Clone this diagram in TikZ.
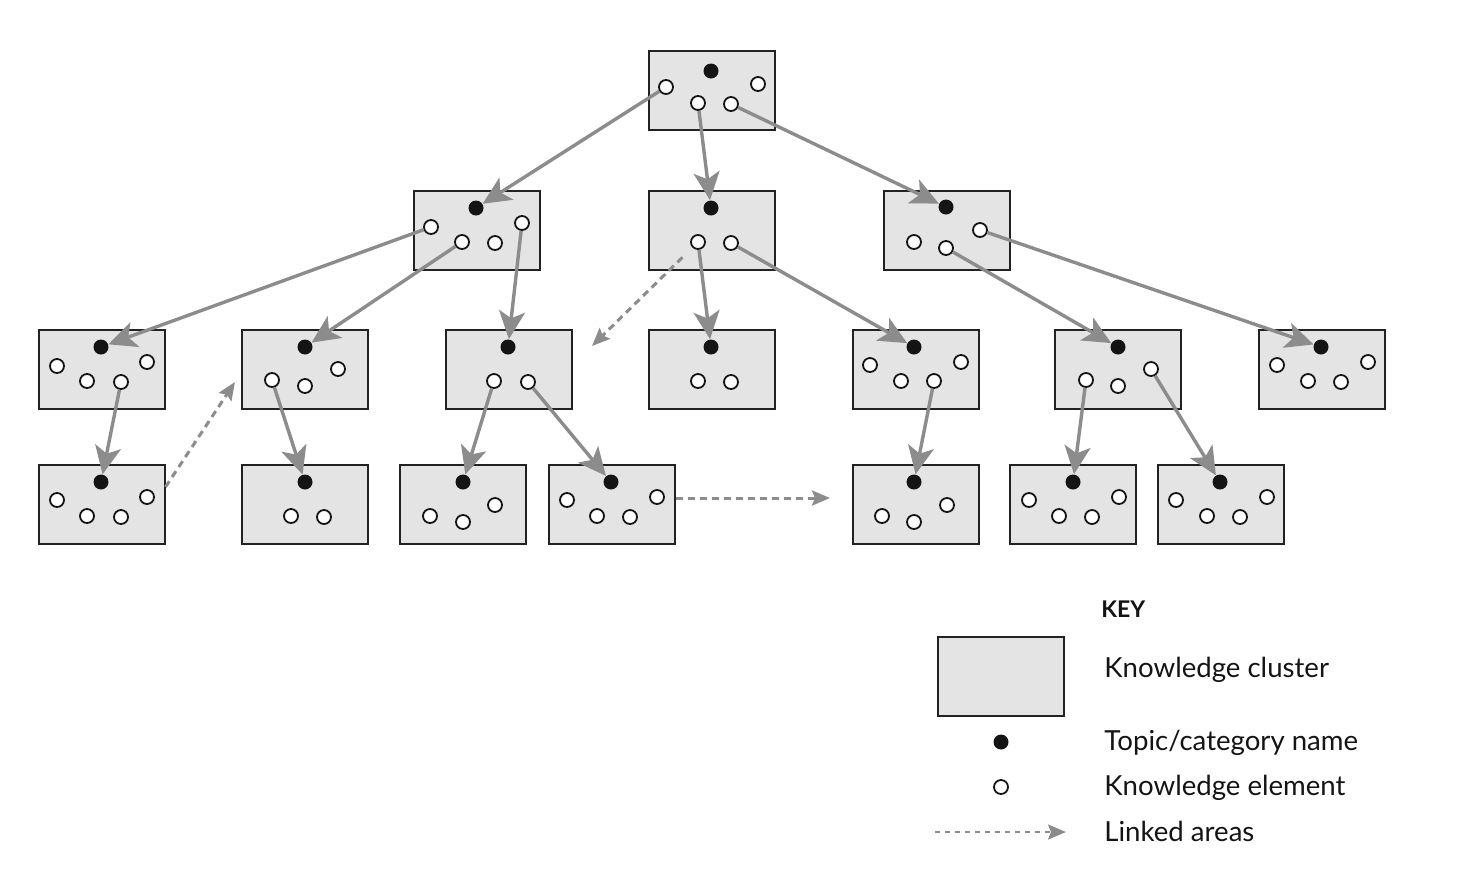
\documentclass[tikz,border=0pt]{standalone}
\usepackage{fontspec}
\setmainfont{Lato}
\usetikzlibrary{arrows.meta}
\definecolor{boxfill}{HTML}{E4E4E4}
\definecolor{boxline}{HTML}{222222}
\definecolor{arrgray}{HTML}{8C8C8C}
\definecolor{dotblack}{HTML}{141414}
\tikzset{
  cluster/.style={draw=boxline, fill=boxfill, line width=1pt, minimum width=63pt, minimum height=39.5pt, inner sep=0pt},
  topic/.style={circle, fill=dotblack, minimum size=7.5pt, inner sep=0pt},
  elem/.style={circle, draw=dotblack, fill=white, line width=0.9pt, minimum size=7pt, inner sep=0pt},
  tree/.style={draw=arrgray, line width=1.7pt, -{Stealth[length=14pt,width=13pt,inset=3.5pt]}},
  linked/.style={draw=arrgray, line width=1.5pt, dash pattern=on 3.5pt off 2.5pt, -{Stealth[length=9pt,width=7.5pt,inset=1.5pt]}},
  keytext/.style={anchor=base west, inner sep=0pt, font=\fontsize{13.8}{16}\selectfont, text=dotblack}
}
\begin{document}
\begin{tikzpicture}[x=0.5pt,y=-0.5pt]
\useasboundingbox (0,0) rectangle (1466,880);
% clusters
\node[cluster] (A) at (712,90.5) {};
\node[cluster] (B1) at (476.5,230.5) {};
\node[cluster] (B2) at (712,230.5) {};
\node[cluster] (B3) at (947,230.5) {};
\node[cluster] (C1) at (101.5,369.5) {};
\node[cluster] (C2) at (305,369.5) {};
\node[cluster] (C3) at (508.5,369.5) {};
\node[cluster] (C4) at (712,369.5) {};
\node[cluster] (C5) at (915.5,369.5) {};
\node[cluster] (C6) at (1118,369.5) {};
\node[cluster] (C7) at (1321.5,369.5) {};
\node[cluster] (D1) at (101.5,504.5) {};
\node[cluster] (D2) at (305,504.5) {};
\node[cluster] (D3) at (463,504.5) {};
\node[cluster] (D4) at (611.5,504.5) {};
\node[cluster] (D5) at (915.5,504.5) {};
\node[cluster] (D6) at (1073,504.5) {};
\node[cluster] (D7) at (1220.5,504.5) {};
% dots
\node[topic] (A-t) at (711,71) {};
\node[elem] (A-1) at (666,87) {};
\node[elem] (A-2) at (698,103) {};
\node[elem] (A-3) at (731,104) {};
\node[elem] (A-4) at (758,84) {};
\node[topic] (B1-t) at (476,208) {};
\node[elem] (B1-1) at (431,227) {};
\node[elem] (B1-2) at (462,242) {};
\node[elem] (B1-3) at (495,243) {};
\node[elem] (B1-4) at (522,223) {};
\node[topic] (B2-t) at (711,208) {};
\node[elem] (B2-1) at (698,242) {};
\node[elem] (B2-2) at (731,243) {};
\node[topic] (B3-t) at (946,207) {};
\node[elem] (B3-1) at (914,242) {};
\node[elem] (B3-2) at (946,248) {};
\node[elem] (B3-3) at (980,230) {};
\node[topic] (C1-t) at (101,347) {};
\node[elem] (C1-1) at (57,366) {};
\node[elem] (C1-2) at (87,381) {};
\node[elem] (C1-3) at (121,382) {};
\node[elem] (C1-4) at (147,362) {};
\node[topic] (C2-t) at (305,347) {};
\node[elem] (C2-1) at (272,380) {};
\node[elem] (C2-2) at (305,386) {};
\node[elem] (C2-3) at (338,369) {};
\node[topic] (C3-t) at (508,347) {};
\node[elem] (C3-1) at (494,381) {};
\node[elem] (C3-2) at (528,382) {};
\node[topic] (C4-t) at (711,347) {};
\node[elem] (C4-1) at (698,381) {};
\node[elem] (C4-2) at (731,382) {};
\node[topic] (C5-t) at (914,347) {};
\node[elem] (C5-1) at (870,365) {};
\node[elem] (C5-2) at (901,381) {};
\node[elem] (C5-3) at (934,381) {};
\node[elem] (C5-4) at (961,362) {};
\node[topic] (C6-t) at (1118,347) {};
\node[elem] (C6-1) at (1086,380) {};
\node[elem] (C6-2) at (1118,386) {};
\node[elem] (C6-3) at (1151,369) {};
\node[topic] (C7-t) at (1321,347) {};
\node[elem] (C7-1) at (1277,365) {};
\node[elem] (C7-2) at (1308,381) {};
\node[elem] (C7-3) at (1341,382) {};
\node[elem] (C7-4) at (1368,362) {};
\node[topic] (D1-t) at (101,482) {};
\node[elem] (D1-1) at (57,500) {};
\node[elem] (D1-2) at (87,516) {};
\node[elem] (D1-3) at (121,517) {};
\node[elem] (D1-4) at (147,497) {};
\node[topic] (D2-t) at (305,482) {};
\node[elem] (D2-1) at (291,516) {};
\node[elem] (D2-2) at (324,517) {};
\node[topic] (D3-t) at (463,482) {};
\node[elem] (D3-1) at (430,516) {};
\node[elem] (D3-2) at (463,522) {};
\node[elem] (D3-3) at (495,505) {};
\node[topic] (D4-t) at (611,482) {};
\node[elem] (D4-1) at (567,500) {};
\node[elem] (D4-2) at (597,516) {};
\node[elem] (D4-3) at (630,517) {};
\node[elem] (D4-4) at (657,497) {};
\node[topic] (D5-t) at (914,482) {};
\node[elem] (D5-1) at (882,516) {};
\node[elem] (D5-2) at (914,522) {};
\node[elem] (D5-3) at (947,505) {};
\node[topic] (D6-t) at (1073,482) {};
\node[elem] (D6-1) at (1029,500) {};
\node[elem] (D6-2) at (1059,516) {};
\node[elem] (D6-3) at (1092,517) {};
\node[elem] (D6-4) at (1119,497) {};
\node[topic] (D7-t) at (1220,482) {};
\node[elem] (D7-1) at (1176,500) {};
\node[elem] (D7-2) at (1207,516) {};
\node[elem] (D7-3) at (1240,517) {};
\node[elem] (D7-4) at (1267,497) {};
% tree arrows
\draw[tree] (A-1) -- (B1-t);
\draw[tree] (A-2) -- (B2-t);
\draw[tree] (A-3) -- (B3-t);
\draw[tree] (B1-1) -- (C1-t);
\draw[tree] (B1-2) -- (C2-t);
\draw[tree] (B1-4) -- (C3-t);
\draw[tree] (B2-1) -- (C4-t);
\draw[tree] (B2-2) -- (C5-t);
\draw[tree] (B3-2) -- (C6-t);
\draw[tree] (B3-3) -- (C7-t);
\draw[tree] (C1-3) -- (D1-t);
\draw[tree] (C2-1) -- (D2-t);
\draw[tree] (C3-1) -- (D3-t);
\draw[tree] (C3-2) -- (D4-t);
\draw[tree] (C5-3) -- (D5-t);
\draw[tree] (C6-1) -- (D6-t);
\draw[tree] (C6-3) -- (D7-t);
% linked areas
\coordinate (L1) at (235,382);
\coordinate (L2) at (592,346);
\coordinate (L3) at (830,498);
\draw[linked] ([yshift=8.75pt]D1.east) -- (L1);
\draw[linked, shorten <=7pt] (B2-1) -- (L2);
\draw[linked] ([yshift=3.25pt]D4.east) -- (L3);
% key
\node[anchor=base west, inner sep=0pt, font=\fontsize{11.5}{14}\selectfont\bfseries, text=dotblack] (keyhead) at (1101,617) {KEY};
\node[cluster] (K) at (1001,676.5) {};
\node[topic] (Kt) at (1001,742) {};
\node[elem] (Ke) at (1001,787) {};
\coordinate (Ks) at (935,832);
\coordinate (Ke2) at (1066,832);
\draw[linked, line width=1.1pt, dash pattern=on 2.5pt off 2.5pt] (Ks) -- (Ke2);
\node[keytext] (k1) at (1104,677) {Knowledge cluster};
\node[keytext] (k2) at (1104,750) {Topic/category name};
\node[keytext] (k3) at (1104,795) {Knowledge element};
\node[keytext] (k4) at (1104,841) {Linked areas};
\end{tikzpicture}
\end{document}
